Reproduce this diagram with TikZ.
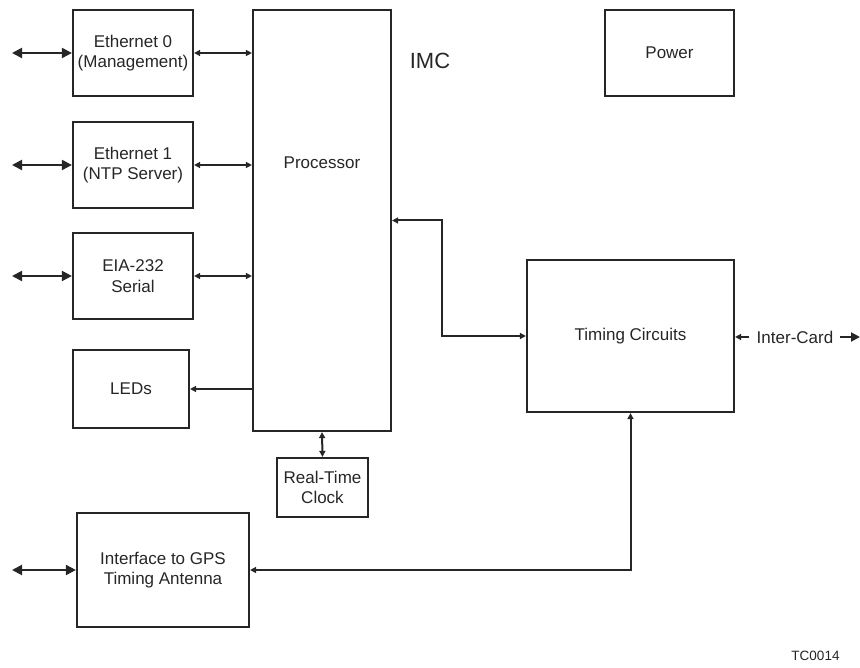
\documentclass[tikz,border=0pt]{standalone}
\usepackage{fontspec}
\setmainfont{Liberation Sans}
\usetikzlibrary{arrows.meta}
\begin{document}
\begin{tikzpicture}[x=1pt,y=-1pt,
  blk/.style={draw=black!85, line width=2.2pt, inner sep=0pt, align=center,
    font=\fontsize{17}{20.5}\selectfont, text=black!85},
  conn/.style={line width=2pt, draw=black!85},
  bigboth/.style={conn, {Triangle[length=10pt,width=10pt]}-{Triangle[length=10pt,width=10pt]}},
  smallboth/.style={conn, {Triangle[length=6pt,width=6pt]}-{Triangle[length=6pt,width=6pt]}},
  smallto/.style={conn, -{Triangle[length=6pt,width=6pt]}},
  bigto/.style={conn, -{Triangle[length=9pt,width=9pt]}}
]
\useasboundingbox (0,0) rectangle (860,668);
% boxes
\node[blk, minimum width=120pt, minimum height=86pt] (eth0) at (133,53) {Ethernet 0\\(Management)};
\node[blk, minimum width=120pt, minimum height=86pt] (eth1) at (133,165) {Ethernet 1\\(NTP Server)};
\node[blk, minimum width=120pt, minimum height=86pt] (eia) at (133,276) {EIA-232\\Serial};
\node[blk, minimum width=116pt, minimum height=78pt] (leds) at (131,389) {LEDs};
\node[blk, minimum width=138pt, minimum height=421pt] (proc) at (322,220.5) {};
\node[font=\fontsize{17}{20.5}\selectfont, text=black!85] (proclbl) at (322,163) {Processor};
\node[blk, minimum width=91pt, minimum height=59pt] (rtc) at (322.5,487.5) {Real-Time\\Clock};
\node[blk, minimum width=207pt, minimum height=152pt] (timing) at (630.5,336) {Timing Circuits};
\node[blk, minimum width=172pt, minimum height=114pt] (gps) at (163,570) {Interface to GPS\\Timing Antenna};
\node[blk, minimum width=129pt, minimum height=86pt] (power) at (669.5,53) {Power};
\node[font=\fontsize{22}{24}\selectfont, text=black!85] (imc) at (430,61) {IMC};
\node[font=\fontsize{17}{20}\selectfont, text=black!85, inner sep=0pt] (ic) at (795,337) {Inter-Card};
\node[font=\fontsize{13.5}{15}\selectfont, text=black!85] (tc) at (815.5,656) {TC0014};
% free ends
\coordinate (e0l) at (12,53);
\coordinate (e1l) at (12,165);
\coordinate (eial) at (12,276);
\coordinate (gpsl) at (12,570);
\coordinate (pbend) at (442,336);
\coordinate (icl) at (749,337);
\coordinate (icr) at (840,337);
\coordinate (icend) at (860,337);
% outside connectors
\draw[bigboth] (e0l) -- (eth0.west);
\draw[bigboth] (e1l) -- (eth1.west);
\draw[bigboth] (eial) -- (eia.west);
\draw[bigboth] (gpsl) -- (gps.west);
% internal connectors
\draw[smallboth] (eth0.east) -- (proc.west |- eth0.east);
\draw[smallboth] (eth1.east) -- (proc.west |- eth1.east);
\draw[smallboth] (eia.east) -- (proc.west |- eia.east);
\draw[smallto] (proc.west |- leds.east) -- (leds.east);
\draw[smallboth] (proc.south) -- (rtc.north);
\draw[smallboth] (proc.east) -| (pbend) -- (timing.west);
\draw[smallboth] (gps.east) -| (timing.south);
\draw[smallto] (icl) -- (timing.east |- icl);
\draw[bigto] (icr) -- (icend);
\end{tikzpicture}
\end{document}
